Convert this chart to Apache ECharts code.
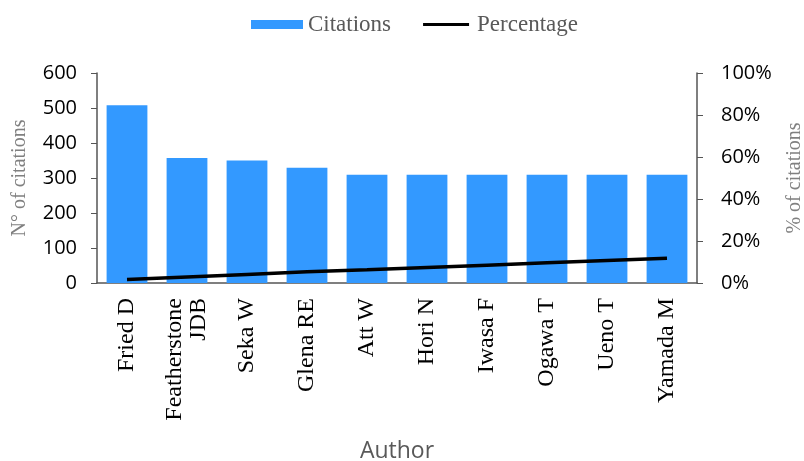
<!DOCTYPE html>
<html>
<head>
<meta charset="utf-8">
<script src="https://cdn.jsdelivr.net/npm/echarts@6/dist/echarts.min.js"></script>
<style>
  html, body { margin: 0; padding: 0; background: #fff; }
  #chart { width: 804px; height: 461px; }
</style>
</head>
<body>
<div id="chart"></div>
<script>
// data
const authors = ['Fried D', 'Featherstone\nJDB', 'Seka W', 'Glena RE', 'Att W', 'Hori N', 'Iwasa F', 'Ogawa T', 'Ueno T', 'Yamada M'];
const citations = [508, 357, 350, 329, 309, 309, 309, 309, 309, 309];
const percentage = [1.7, 2.9, 4.1, 5.3, 6.3, 7.4, 8.5, 9.6, 10.7, 11.8];
const leftTicks = [0, 600, 100];
const rightTicks = [0, 100, 20];

const serif = '"Liberation Serif", "DejaVu Serif", serif';
const sans = '"Open Sans", "Liberation Sans", sans-serif';

const chart = echarts.init(document.getElementById('chart'));

chart.setOption({
  animation: false,
  legend: {
    top: 8,
    left: 246,
    itemGap: 26,
    textStyle: { fontFamily: serif, fontSize: 23, color: '#595959' },
    data: [
      { name: 'Citations', icon: 'rect', itemStyle: { color: '#3399FF' } },
      // thin black bar: white border eats the rect down to a line
      { name: 'Percentage', icon: 'rect', itemStyle: { color: '#000', borderColor: '#fff', borderWidth: 6 } }
    ],
    itemWidth: 52,
    itemHeight: 9
  },
  grid: { left: 97, right: 107, top: 73, bottom: 178, outerBoundsMode: 'none', containLabel: false },
  xAxis: {
    type: 'category',
    data: authors,
    name: 'Author',
    nameLocation: 'middle',
    nameGap: 157,
    nameTextStyle: { fontFamily: sans, fontSize: 23, color: '#595959' },
    axisLine: { lineStyle: { color: '#555', width: 1.5 } },
    axisTick: { show: false },
    axisLabel: {
      rotate: 90,
      interval: 0,
      margin: 15,
      fontFamily: serif,
      fontSize: 24,
      color: '#000',
      lineHeight: 24
    }
  },
  yAxis: [
    {
      type: 'value',
      min: leftTicks[0],
      max: leftTicks[1],
      interval: leftTicks[2],
      name: 'N° of citations',
      nameLocation: 'middle',
      nameGap: 67,
      nameRotate: 90,
      nameTextStyle: { fontFamily: serif, fontSize: 20, color: '#808080' },
      axisLine: { show: true, lineStyle: { color: '#555', width: 1.5 } },
      axisTick: { show: true, length: 6, lineStyle: { color: '#555' } },
      splitLine: { show: false },
      axisLabel: { margin: 20, fontFamily: sans, fontSize: 20, color: '#000' }
    },
    {
      type: 'value',
      min: rightTicks[0],
      max: rightTicks[1],
      interval: rightTicks[2],
      position: 'right',
      name: '% of citations',
      nameLocation: 'middle',
      nameGap: 88,
      nameRotate: 90,
      nameTextStyle: { fontFamily: serif, fontSize: 20, color: '#808080' },
      axisLine: { show: true, lineStyle: { color: '#555', width: 1.5 } },
      axisTick: { show: true, length: 6, lineStyle: { color: '#555' } },
      splitLine: { show: false },
      axisLabel: {
        margin: 24,
        fontFamily: sans,
        fontSize: 20,
        color: '#000',
        formatter: '{value}%'
      }
    }
  ],
  series: [
    {
      name: 'Citations',
      type: 'bar',
      data: citations,
      barCategoryGap: '32%',
      itemStyle: { color: '#3399FF' }
    },
    {
      name: 'Percentage',
      type: 'line',
      yAxisIndex: 1,
      data: percentage,
      showSymbol: false,
      symbol: 'none',
      lineStyle: { color: '#000', width: 3.5 },
      itemStyle: { color: '#000' }
    }
  ]
});
</script>
</body>
</html>
